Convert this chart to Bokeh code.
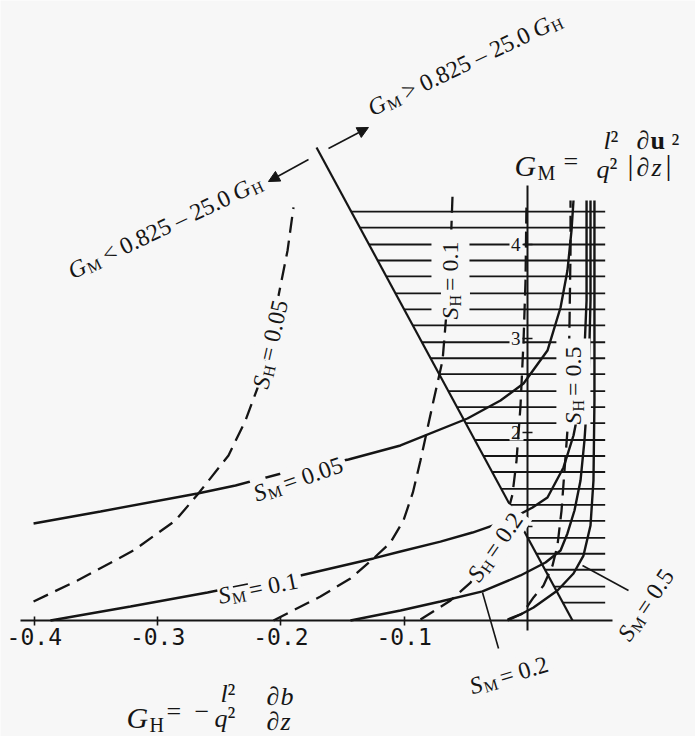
import math
import numpy as np
from bokeh.plotting import figure
from bokeh.models import Range1d, LinearAxis, FixedTicker, Label, Arrow, NormalHead
from bokeh.embed import file_html
from bokeh.resources import INLINE

# ------------------------------------------------------------------ data
XTICKS = [-0.4, -0.3, -0.2, -0.1]
XTICK_LABELS = ["-0.4", "-0.3", "-0.2", "-0.1"]
YTICKS = [1, 2, 3, 4]
YTICK_LABELS = ["1", "2", "3", "4"]

# boundary line  G_M = 0.825 - 25.0 G_H  (end points)
DIAG_GH = [-0.1711, 0.0365]
DIAG_GM = [5.032, 0.0]

# hatched region (levels of the horizontal hatch lines, right end)
HATCH_GM = [0.19, 0.36, 0.54, 0.71, 0.88, 1.06, 1.23, 1.40, 1.58, 1.75, 1.92, 2.10,
            2.27, 2.44, 2.62, 2.79, 2.96, 3.14, 3.31, 3.48, 3.66, 3.83, 4.00, 4.18, 4.35]
HATCH_RIGHT = 0.0630

# S_H contours (dashed)
SH005_GH = [-0.4006, -0.3650, -0.3195, -0.2855, -0.2676, -0.2425, -0.2287, -0.2182, -0.2101, -0.2019, -0.1946, -0.1898]
SH005_GM = [0.202, 0.426, 0.745, 1.064, 1.340, 1.755, 2.128, 2.500, 2.926, 3.457, 3.936, 4.394]
SH01_GH = [-0.2060, -0.1679, -0.1436, -0.1249, -0.1111, -0.1006, -0.0930, -0.0868, -0.0762, -0.0689, -0.0649, -0.0624, -0.0608]
SH01_GM = [0.000, 0.255, 0.447, 0.660, 0.830, 1.064, 1.360, 1.702, 2.340, 2.766, 3.404, 3.936, 4.521]
SH02_GH = [-0.0868, -0.0624, -0.0462, -0.0300, -0.0178, -0.0122, -0.0089, -0.0057, -0.0032, -0.0016, -0.0008]
SH02_GM = [0.011, 0.213, 0.404, 0.745, 1.064, 1.340, 1.702, 2.277, 2.979, 3.617, 4.468]
SH05_GH = [-0.0162, -0.0041, 0.0049, 0.0130, 0.0203, 0.0243, 0.0276, 0.0300, 0.0324, 0.0333, 0.0341, 0.0349, 0.0349]
SH05_GM = [0.011, 0.074, 0.245, 0.372, 0.585, 0.798, 1.170, 1.596, 2.021, 2.553, 3.191, 3.936, 4.468]

# S_M contours (solid)
SM005_GH = [-0.4006, -0.3463, -0.2676, -0.2368, -0.1906, -0.1452, -0.1030, -0.0487, -0.0219, -0.0032, 0.0162, 0.0268, 0.0324, 0.0357, 0.0373]
SM005_GM = [1.032, 1.160, 1.351, 1.436, 1.596, 1.713, 1.862, 2.149, 2.340, 2.521, 2.872, 3.330, 3.723, 4.149, 4.468]
SM01_GH = [-0.3869, -0.3220, -0.2595, -0.2198, -0.1841, -0.1249, -0.1030, -0.0706, -0.0446, -0.0260, -0.0081, 0.0041, 0.0162, 0.0292, 0.0373, 0.0430, 0.0462, 0.0479, 0.0479]
SM01_GM = [0.000, 0.149, 0.298, 0.404, 0.479, 0.660, 0.734, 0.840, 0.936, 1.021, 1.117, 1.202, 1.309, 1.628, 1.968, 2.340, 2.872, 3.404, 4.468]
SM02_GH = [-0.1436, -0.1030, -0.0706, -0.0365, -0.0057, 0.0146, 0.0268, 0.0324, 0.0381, 0.0430, 0.0462, 0.0495, 0.0511, 0.0511]
SM02_GM = [0.000, 0.106, 0.202, 0.309, 0.479, 0.617, 0.745, 0.926, 1.170, 1.489, 1.915, 2.553, 3.404, 4.468]
SM05_GH = [-0.0162, -0.0057, 0.0049, 0.0243, 0.0373, 0.0454, 0.0511, 0.0535, 0.0543, 0.0543]
SM05_GM = [0.000, 0.064, 0.138, 0.319, 0.500, 0.691, 1.011, 1.489, 2.340, 4.468]

# leader lines of the S_M = 0.2 and S_M = 0.5 labels
LEAD_GH0 = [-0.0365, 0.0446]
LEAD_GM0 = [0.298, 0.585]
LEAD_GH1 = [-0.0235, 0.0819]
LEAD_GM1 = [-0.298, 0.319]

# arrows either side of the boundary line
ARROWS = [(-0.1614, 5.021, -0.1290, 5.245), (-0.1776, 4.904, -0.2101, 4.670)]

# curve labels: (name, subscript, value, anchor gh, anchor gm, angle deg)
CURVE_LABELS = [
    ("S", "H", "0.05", -0.2149, 2.957, 77),
    ("S", "H", "0.1", -0.0689, 3.617, 90),
    ("S", "H", "0.2", -0.0316, 0.830, 55),
    ("S", "H", "0.5", 0.0308, 2.500, 90),
    ("S", "M", "0.05", -0.1882, 1.585, 19),
    ("S", "M", "0.1", -0.2198, 0.426, 11.5),
    ("S", "M", "0.2", -0.0170, -0.500, 17),
    ("S", "M", "0.5", 0.0905, 0.213, 56),
]

# ------------------------------------------------------------------ layout / style
INK = "#151515"
BG = "#f7f7f7"
SERIF = "Liberation Serif"
W_PX, H_PX = 695, 736
SX, SY = 1233.0, 94.0          # px per data unit
OX, OY = 527.0, 620.0          # picture px of the data origin
PAGE0 = 0

p = figure(width=W_PX, height=H_PX,
           x_range=Range1d((PAGE0 - OX) / SX, (PAGE0 + W_PX - OX) / SX),
           y_range=Range1d((OY - PAGE0 - H_PX) / SY, (OY - PAGE0) / SY),
           x_axis_type=None, y_axis_type=None,
           output_backend="svg", toolbar_location=None, min_border=0)
p.outline_line_color = None
p.background_fill_color = BG
p.border_fill_color = BG

# axes through the origin
xaxis = LinearAxis(fixed_location=0, bounds=(-0.411, 0.0689), ticker=FixedTicker(ticks=XTICKS))
xaxis.major_label_overrides = {t: s for t, s in zip(XTICKS, XTICK_LABELS)}
xaxis.axis_line_width = 2.2
xaxis.axis_line_color = INK
xaxis.major_tick_line_color = INK
xaxis.major_tick_line_width = 1.6
xaxis.major_tick_in = 4
xaxis.major_tick_out = 5
xaxis.minor_tick_line_color = None
xaxis.major_label_text_font = "DejaVu Sans Mono"
xaxis.major_label_text_font_size = "23px"
xaxis.major_label_text_color = INK
xaxis.major_label_standoff = 2
p.add_layout(xaxis, "below")

yaxis = LinearAxis(fixed_location=0, bounds=(-0.106, 4.63), ticker=FixedTicker(ticks=YTICKS))
yaxis.major_label_overrides = {t: s for t, s in zip(YTICKS, YTICK_LABELS)}
yaxis.axis_line_width = 2.0
yaxis.axis_line_color = INK
yaxis.major_tick_line_color = INK
yaxis.major_tick_line_width = 1.6
yaxis.major_tick_in = 5
yaxis.major_tick_out = 5
yaxis.minor_tick_line_color = None
yaxis.major_label_text_font = SERIF
yaxis.major_label_text_font_size = "19px"
yaxis.major_label_text_color = INK
yaxis.major_label_standoff = 2
p.add_layout(yaxis, "left")

# hatching of the region right of the boundary
hatch_left = np.interp(HATCH_GM, DIAG_GM[::-1], DIAG_GH[::-1])
p.segment(x0=hatch_left, y0=HATCH_GM, x1=[HATCH_RIGHT] * len(HATCH_GM), y1=HATCH_GM,
          line_color=INK, line_width=1.8)
# gaps in the hatching behind the y tick labels
p.quad(left=[-18 / SX] * len(YTICKS), right=[-4 / SX] * len(YTICKS),
       bottom=[t - 8 / SY for t in YTICKS], top=[t + 8 / SY for t in YTICKS],
       fill_color=BG, line_color=None)

# contours
for gh, gm in [(SH005_GH, SH005_GM), (SH01_GH, SH01_GM), (SH02_GH, SH02_GM), (SH05_GH, SH05_GM)]:
    p.line(gh, gm, line_color=INK, line_width=2.3, line_dash="16 8")
for gh, gm in [(SM005_GH, SM005_GM), (SM01_GH, SM01_GM), (SM02_GH, SM02_GM), (SM05_GH, SM05_GM)]:
    p.line(gh, gm, line_color=INK, line_width=2.4)
p.line(DIAG_GH, DIAG_GM, line_color=INK, line_width=2.2)
p.segment(x0=LEAD_GH0, y0=LEAD_GM0, x1=LEAD_GH1, y1=LEAD_GM1, line_color=INK, line_width=1.6)

for xs, ys, xe, ye in ARROWS:
    p.add_layout(Arrow(x_start=xs, y_start=ys, x_end=xe, y_end=ye, line_color=INK, line_width=1.6,
                       end=NormalHead(size=11, fill_color=INK, line_color=INK)))

# ------------------------------------------------------------------ text helpers
EM = {'0': .5, '1': .5, '2': .5, '3': .5, '4': .5, '5': .5, '6': .5, '7': .5, '8': .5, '9': .5,
      '.': .25, ' ': .25, '=': .564, '<': .564, '>': .564, '\u2013': .5, '-': .333, '\u2212': .564,
      'M': .889, 'H': .722, 'G': .722, 'S': .5, 'l': .278, 'q': .5, 'b': .5, 'z': .389,
      'u': .556, '\u2202': .494, '\u00b2': .3, '|': .2}

BG_SPECS = []
TXT_SPECS = []


def run_width(text, size):
    return sum(EM.get(ch, .5) for ch in text) * size


def add_runs(anchor, angle_deg, runs, bg=None, pad=0):
    """runs: (text, size, style, baseline shift px, gap before px); centred on anchor."""
    th = math.radians(angle_deg)
    dx, dy = math.cos(th), -math.sin(th)
    nx, ny = math.sin(th), math.cos(th)
    widths = [run_width(r[0], r[1]) for r in runs]
    total = sum(widths) + sum(r[4] for r in runs)
    main = max(r[1] for r in runs)
    pos, base = -total / 2, 0.33 * main
    for (text, size, style, shift, gap), w in zip(runs, widths):
        pos += gap
        ox = pos * dx + (base + shift) * nx
        oy = pos * dy + (base + shift) * ny
        spec = dict(x=anchor[0] + ox / SX, y=anchor[1] - oy / SY, text=text, angle=th,
                    text_font=SERIF, text_font_size=f"{size}px", text_font_style=style,
                    text_align="left", text_baseline="alphabetic")
        if bg is not None:
            # background pass: text painted in the background colour
            BG_SPECS.append(dict(spec, background_fill_color=bg, padding=pad, text_color=bg))
        TXT_SPECS.append(dict(spec, text_color=INK))
        pos += w


LABEL_PADS = {"0.1": 6, "0.5": 4}
for name, sub, val, gh, gm, ang in CURVE_LABELS:
    pad = LABEL_PADS.get(val, 2) if ang == 90 else 2
    add_runs((gh, gm), ang, [(name, 24, "italic", 0, 0), (sub, 16, "normal", 5, 1),
                             ("= " + val, 24, "normal", 0, 4)], bg=BG, pad=pad)

# region labels
add_runs((-0.0536, 6.000), 25.5, [("G", 24, "italic", 0, 0), ("M", 16, "normal", 5, 1),
                                  ("> 0.825 \u2013 25.0", 24, "normal", 0, 5),
                                  ("G", 24, "italic", 0, 5), ("H", 16, "normal", 5, 1)])
add_runs((-0.2968, 4.266), 25.5, [("G", 24, "italic", 0, 0), ("M", 16, "normal", 5, 1),
                                  ("< 0.825 \u2013 25.0", 24, "normal", 0, 5),
                                  ("G", 24, "italic", 0, 5), ("H", 16, "normal", 5, 1)])


def add_formula(pieces):
    """pieces: (text, size, style, left picture px, baseline picture px)"""
    for text, size, style, left, base in pieces:
        TXT_SPECS.append(dict(x=(left - OX) / SX, y=(OY - base) / SY, text=text,
                              text_font=SERIF, text_font_size=f"{size}px", text_font_style=style,
                              text_color=INK, text_align="left", text_baseline="alphabetic"))


# G_M = l^2/q^2 |du/dz|^2
add_formula([("G", 30, "italic", 514, 165), ("M", 20, "normal", 537, 172),
             ("=", 26, "normal", 563, 161),
             ("l", 26, "italic", 603, 140), ("\u00b2", 26, "normal", 610, 140),
             ("q", 26, "italic", 596, 169), ("\u00b2", 26, "normal", 609, 167),
             ("|", 30, "normal", 627, 164),
             ("\u2202", 26, "italic", 636, 140), ("u", 26, "bold", 650, 140),
             ("\u2202", 26, "italic", 636, 167), ("z", 26, "italic", 651, 167),
             ("|", 30, "normal", 665, 164), ("\u00b2", 26, "normal", 671, 143)])

# G_H = - l^2/q^2 db/dz
add_formula([("G", 30, "italic", 126, 717), ("H", 20, "normal", 149, 724),
             ("=", 26, "normal", 166, 711), ("\u2212", 26, "normal", 194, 711),
             ("l", 26, "italic", 220, 693), ("\u00b2", 26, "normal", 227, 693),
             ("q", 26, "italic", 214, 718), ("\u00b2", 26, "normal", 227, 716),
             ("\u2202", 26, "italic", 266, 696), ("b", 26, "italic", 280, 696),
             ("\u2202", 26, "italic", 266, 721), ("z", 26, "italic", 280, 721)])

for spec in BG_SPECS + TXT_SPECS:
    p.add_layout(Label(**spec))

open("out.html", "w").write(file_html(p, INLINE))
